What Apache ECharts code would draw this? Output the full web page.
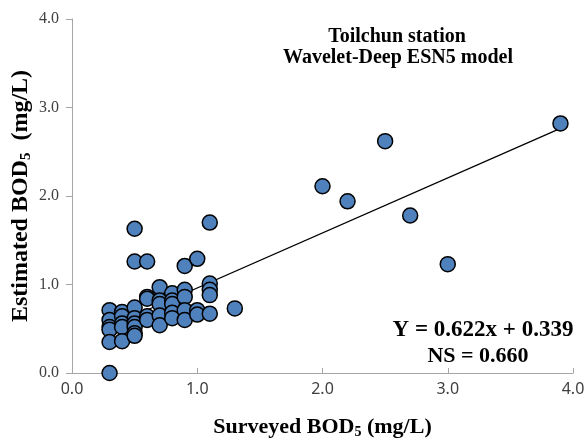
<!DOCTYPE html>
<html><head><meta charset="utf-8">
<script src="https://cdn.jsdelivr.net/npm/echarts@6/dist/echarts.min.js"></script>
<style>html,body{margin:0;padding:0;background:#fff}#c{width:587px;height:441px}</style>
</head><body><div id="c"></div>
<script>
// Surveyed BOD5 (x) and estimated BOD5 (y)
const surveyed = [
  0.3,0.3,0.3,0.3,0.3,0.3,
  0.4,0.4,0.4,0.4,0.4,
  0.5,0.5,0.5,0.5,0.5,0.5,0.5,0.5,
  0.6,0.6,0.6,0.6,0.6,
  0.7,0.7,0.7,0.7,0.7,
  0.8,0.8,0.8,0.8,0.8,
  0.9,0.9,0.9,0.9,0.9,
  1.0,1.0,1.0,
  1.1,1.1,1.1,1.1,1.1,
  1.3,2.0,2.2,2.5,2.7,3.0,3.9
];
const estimated = [
  0.71,0.60,0.52,0.49,0.35,0.00,
  0.69,0.64,0.56,0.52,0.36,
  1.63,1.26,0.74,0.62,0.56,0.52,0.45,0.42,
  1.26,0.86,0.84,0.64,0.60,
  0.97,0.82,0.78,0.65,0.54,
  0.90,0.82,0.78,0.68,0.62,
  1.21,0.94,0.86,0.71,0.60,
  1.29,0.71,0.66,
  1.70,1.01,0.94,0.88,0.67,
  0.73,2.11,1.94,2.62,1.78,1.23,2.82
];
const slope = 0.622, intercept = 0.339;
const fitRange = [0.3, 3.9];
const xTicks = [0, 1, 2, 3, 4];
const yTicks = [0, 1, 2, 3, 4];

const pts = surveyed.map((x, i) => [x, estimated[i]]);
const fit = fitRange.map(x => [x, slope * x + intercept]);

const chart = echarts.init(document.getElementById('c'), null, {renderer: 'canvas'});
const serif = '"Liberation Serif","Times New Roman",serif';
chart.setOption({
  animation: false,
  backgroundColor: '#fff',
  grid: {left: 72, right: 14, top: 19, bottom: 68, outerBoundsMode: 'none', containLabel: false},
  title: [
    {text: 'Toilchun station', left: 392, top: 22, textAlign: 'center',
     textStyle: {fontFamily: serif, fontWeight: 'bold', fontSize: 20, color: '#000'}},
    {text: 'Wavelet-Deep ESN5 model', left: 393, top: 43, textAlign: 'center',
     textStyle: {fontFamily: serif, fontWeight: 'bold', fontSize: 20, color: '#000'}},
    {text: 'Y = 0.622x + 0.339', left: 478, top: 314, textAlign: 'center',
     textStyle: {fontFamily: serif, fontWeight: 'bold', fontSize: 23, color: '#000'}},
    {text: 'NS = 0.660', left: 473, top: 340, textAlign: 'center',
     textStyle: {fontFamily: serif, fontWeight: 'bold', fontSize: 22, color: '#000'}}
  ],
  xAxis: {
    type: 'value', min: xTicks[0], max: xTicks[xTicks.length - 1], interval: 1,
    splitLine: {show: false},
    axisLine: {lineStyle: {color: '#A6A6A6', width: 1}},
    axisTick: {show: true, inside: true, length: 5, lineStyle: {color: '#A6A6A6'}},
    axisLabel: {formatter: v => v.toFixed(1), color: '#404040', fontSize: 16,
      fontFamily: '"Noto Sans","DejaVu Sans",sans-serif', margin: 8},
    name: '{b|Surveyed BOD}{s|5}{b| (mg/L)}',
    nameLocation: 'middle', nameGap: 42, nameMoveOverlap: false,
    nameTextStyle: {rich: {
      b: {fontFamily: serif, fontWeight: 'bold', fontSize: 22, color: '#000'},
      s: {fontFamily: serif, fontWeight: 'bold', fontSize: 14, color: '#000', padding: [10, 0, 0, 0]}
    }}
  },
  yAxis: {
    type: 'value', min: yTicks[0], max: yTicks[yTicks.length - 1], interval: 1,
    splitLine: {show: false},
    axisLine: {show: true, lineStyle: {color: '#A6A6A6', width: 1}},
    axisTick: {show: true, inside: false, length: 6, lineStyle: {color: '#A6A6A6'}},
    axisLabel: {formatter: v => v.toFixed(1), color: '#404040', fontSize: 16,
      fontFamily: serif, margin: 13},
    name: '{b|Estimated BOD}{s|5}{b|  (mg/L)}',
    nameLocation: 'middle', nameGap: 38, nameRotate: 90, nameMoveOverlap: false,
    nameTextStyle: {rich: {
      b: {fontFamily: serif, fontWeight: 'bold', fontSize: 24, color: '#000'},
      s: {fontFamily: serif, fontWeight: 'bold', fontSize: 15, color: '#000', padding: [11, 0, 0, 0]}
    }}
  },
  series: [
    {type: 'line', data: fit, symbol: 'none', z: 1,
     lineStyle: {color: '#000', width: 1.3}},
    {type: 'scatter', data: pts, symbol: 'circle', symbolSize: 15, z: 2,
     itemStyle: {color: '#4F81BD', borderColor: '#000', borderWidth: 1.5, opacity: 1}}
  ]
});
</script></body></html>
